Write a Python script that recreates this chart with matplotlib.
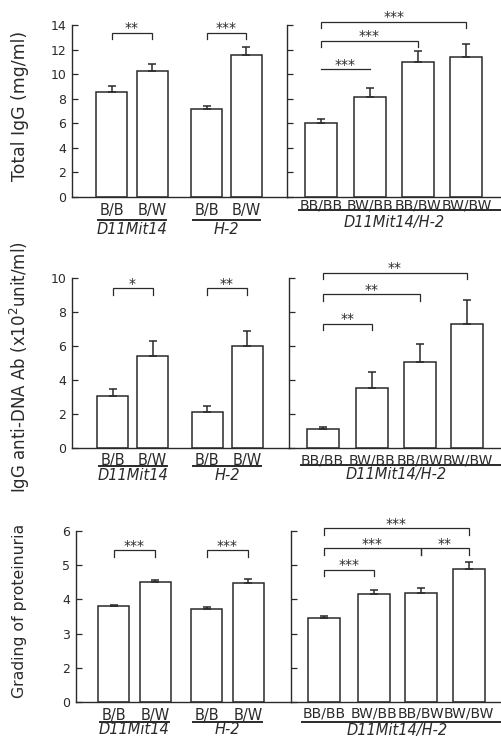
import matplotlib
matplotlib.use('Agg')
import matplotlib.pyplot as plt
import matplotlib.transforms as mtransforms

# ---------------- data ----------------
pair_groups = ['D11Mit14', 'H-2']
pair_labels = ['B/B', 'B/W', 'B/B', 'B/W']
combo_group = 'D11Mit14/H-2'
combo_labels = ['BB/BB', 'BW/BB', 'BB/BW', 'BW/BW']

ylabels = ['Total IgG (mg/ml)',
           'IgG anti-DNA Ab (x10$^{2}$unit/ml)',
           'Grading of proteinuria']

igg_pair = [8.55, 10.25, 7.15, 11.55]
igg_pair_err = [0.5, 0.6, 0.28, 0.65]
igg_combo = [6.05, 8.15, 11.0, 11.4]
igg_combo_err = [0.3, 0.7, 0.9, 1.05]

dna_pair = [3.05, 5.4, 2.1, 6.0]
dna_pair_err = [0.45, 0.9, 0.4, 0.9]
dna_combo = [1.1, 3.55, 5.05, 7.3]
dna_combo_err = [0.12, 0.95, 1.05, 1.4]

prot_pair = [3.8, 4.5, 3.73, 4.48]
prot_pair_err = [0.05, 0.08, 0.04, 0.13]
prot_combo = [3.45, 4.15, 4.2, 4.88]
prot_combo_err = [0.07, 0.12, 0.13, 0.2]

igg_ticks = [0, 2, 4, 6, 8, 10, 12, 14]
igg_ticklabels = ['0', '2', '4', '6', '8', '10', '12', '14']
dna_ticks = [0, 2, 4, 6, 8, 10]
dna_ticklabels = ['0', '2', '4', '6', '8', '10']
prot_ticks = [1, 2, 3, 4, 5, 6]          # broken axis: bottom tick is labelled 0
prot_ticklabels = ['0', '2', '3', '4', '5', '6']

# significance: (bar i, bar j, level, stars, with end ticks)
igg_pair_sig = [(0, 1, 13.35, '**', True), (2, 3, 13.35, '***', True)]
igg_combo_sig = [(0, 3, 14.25, '***', True), (0, 2, 12.7, '***', True),
                 (0, 1, 10.4, '***', False)]
dna_pair_sig = [(0, 1, 9.4, '*', True), (2, 3, 9.4, '**', True)]
dna_combo_sig = [(0, 3, 10.3, '**', True), (0, 2, 9.05, '**', True),
                 (0, 1, 7.3, '**', True)]
prot_pair_sig = [(0, 1, 5.44, '***', True), (2, 3, 5.44, '***', True)]
prot_combo_sig = [(0, 3, 6.08, '***', True), (0, 2, 5.5, '***', True),
                  (2, 3, 5.5, '**', True), (0, 1, 4.86, '***', True)]

# ---------------- layout (pixels) ----------------
W, H, DPI = 502, 743, 100
INK = '#2a2a2a'
plt.rcParams['font.family'] = ['DejaVu Sans']

rows = [
    dict(top=25, bottom=197, lx=72, rx=287, ylim=(0, 14), ticks=igg_ticks, tl=igg_ticklabels,
         pv=igg_pair, pe=igg_pair_err, cv=igg_combo, ce=igg_combo_err,
         ps=igg_pair_sig, cs=igg_combo_sig, ylab=ylabels[0], ylab_y=106, ylab_fs=12.4,
         loff=[39.5, 80, 134.5, 174], roff=[34, 82.5, 131, 179.5],
         lpad=4.2, rpad=1.2, lul=23, rul=13, lgl=33, rgl=25),
    dict(top=278, bottom=448, lx=72, rx=289, ylim=(0, 10), ticks=dna_ticks, tl=dna_ticklabels,
         pv=dna_pair, pe=dna_pair_err, cv=dna_combo, ce=dna_combo_err,
         ps=dna_pair_sig, cs=dna_combo_sig, ylab=ylabels[1], ylab_y=367, ylab_fs=12.0,
         loff=[40.5, 80.5, 135, 175], roff=[33.5, 83, 131, 178.5],
         lpad=3.6, rpad=4.0, lul=18, rul=17, lgl=27, rgl=27),
    dict(top=531, bottom=702, lx=76, rx=291, ylim=(1, 6), ticks=prot_ticks, tl=prot_ticklabels,
         pv=prot_pair, pe=prot_pair_err, cv=prot_combo, ce=prot_combo_err,
         ps=prot_pair_sig, cs=prot_combo_sig, ylab=ylabels[2], ylab_y=611, ylab_fs=11.3,
         loff=[37.5, 79, 130.5, 172], roff=[33, 82.5, 130, 178],
         lpad=4.2, rpad=3.0, lul=20, rul=20, lgl=28, rgl=28),
]
RIGHT_END = 501

fig = plt.figure(figsize=(W / DPI, H / DPI), dpi=DPI)
fig.patch.set_facecolor('white')


def make_ax(x0, x1, top, bottom):
    return fig.add_axes([x0 / W, 1 - bottom / H, (x1 - x0) / W, (bottom - top) / H])


def below(ax, dy):
    base = mtransforms.blended_transform_factory(ax.transData, ax.transAxes)
    return mtransforms.offset_copy(base, fig=fig, x=0, y=-dy, units='dots')


def style(ax, r, width_px, show_labels):
    ax.set_xlim(0, width_px)
    ax.set_ylim(*r['ylim'])
    ax.patch.set_alpha(0)
    for s in ['top', 'right']:
        ax.spines[s].set_visible(False)
    for s in ['left', 'bottom']:
        ax.spines[s].set_color(INK)
        ax.spines[s].set_linewidth(1.0)
    ax.set_yticks(r['ticks'])
    if show_labels:
        ax.set_yticklabels(r['tl'], fontsize=9, color=INK)
    else:
        ax.set_yticklabels([])
    ax.tick_params(axis='y', direction='in', length=4, width=0.9, color=INK, pad=4)


def bars(ax, pos, vals, errs, width):
    ymin = ax.get_ylim()[0]
    ax.bar(pos, [v - ymin for v in vals], bottom=ymin, width=width, color='white',
           edgecolor=INK, linewidth=1.1, zorder=2)
    ax.errorbar(pos, vals, yerr=[[0] * len(errs), errs], fmt='none', ecolor=INK,
                elinewidth=1.1, capsize=3.2, capthick=1.1, zorder=3)


def brackets(ax, pos, sigs, r):
    ppu = (r['bottom'] - r['top']) / (r['ylim'][1] - r['ylim'][0])
    tick = 6.5 / ppu
    for (i, j, y, st, tk) in sigs:
        x1, x2 = pos[i], pos[j]
        if tk:
            ax.plot([x1, x1, x2, x2], [y - tick, y, y, y - tick], color=INK, lw=0.9,
                    clip_on=False, solid_joinstyle='miter')
        else:
            ax.plot([x1, x2], [y, y], color=INK, lw=0.9, clip_on=False)
        ax.text((x1 + x2) / 2, y + 0.5 / ppu, st, ha='center', va='baseline',
                fontsize=10, color=INK, clip_on=False)


for r in rows:
    lw_px = r['rx'] - r['lx']
    rw_px = RIGHT_END - r['rx']
    axl = make_ax(r['lx'], r['rx'], r['top'], r['bottom'])
    axr = make_ax(r['rx'], RIGHT_END, r['top'], r['bottom'])
    style(axl, r, lw_px, True)
    style(axr, r, rw_px, False)

    lpos = r['loff']
    rpos = r['roff']
    bars(axl, lpos, r['pv'], r['pe'], 31)
    bars(axr, rpos, r['cv'], r['ce'], 32)
    brackets(axl, lpos, r['ps'], r)
    brackets(axr, rpos, r['cs'], r)

    axl.set_xticks(lpos)
    axl.set_xticklabels(pair_labels, fontsize=10.5, color=INK)
    axl.tick_params(axis='x', length=0, pad=r['lpad'])
    axr.set_xticks(rpos)
    axr.set_xticklabels(combo_labels, fontsize=10, color=INK)
    axr.tick_params(axis='x', length=0, pad=r['rpad'])

    # group underlines and names
    for g, name in enumerate(pair_groups):
        a, b = lpos[2 * g], lpos[2 * g + 1]
        axl.plot([a - 14, b + 14], [0, 0], color=INK, lw=1.4, clip_on=False,
                 transform=below(axl, r['lul']))
        axl.text((a + b) / 2, 0, name, ha='center', va='center', fontsize=10.5,
                 style='italic', color=INK, transform=below(axl, r['lgl']))
    axr.plot([rpos[0] - 22, rw_px], [0, 0], color=INK, lw=1.4, clip_on=False,
             transform=below(axr, r['rul']))
    axr.text((rpos[1] + rpos[2]) / 2, 0, combo_group, ha='center', va='center',
             fontsize=10.5, style='italic', color=INK, transform=below(axr, r['rgl']))

    fig.text(20 / W, 1 - r['ylab_y'] / H, r['ylab'], rotation=90, ha='center',
             va='center', fontsize=r['ylab_fs'], color=INK)

fig.savefig('out.png', dpi=DPI, facecolor='white')
